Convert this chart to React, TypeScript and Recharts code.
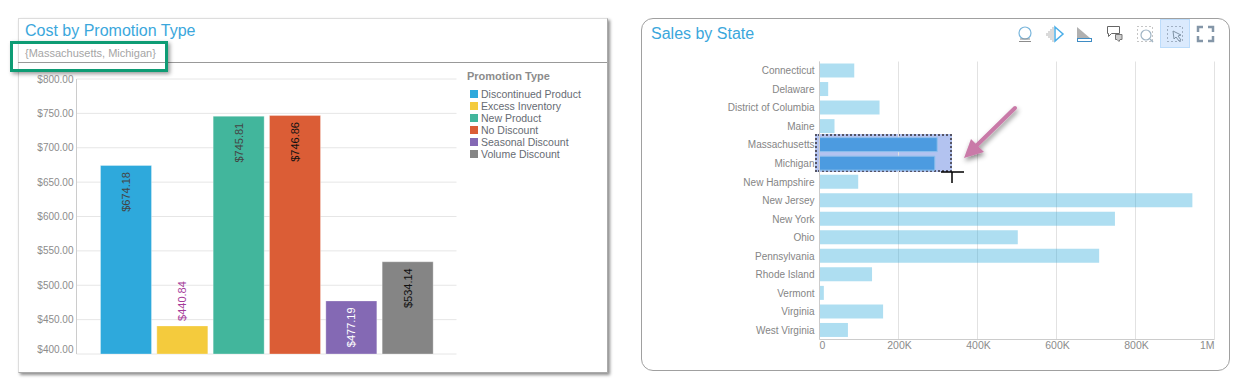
import { Bar, BarChart, CartesianGrid, Cell, LabelList, XAxis, YAxis } from "recharts";

const FONT = "'Liberation Sans', Arial, sans-serif";

const promotionTypes = [
  "Discontinued Product",
  "Excess Inventory",
  "New Product",
  "No Discount",
  "Seasonal Discount",
  "Volume Discount",
];
const promotionCosts = [674.18, 440.84, 745.81, 746.86, 477.19, 534.14];
const promotionColors = ["#2ea9dc", "#f4cb3d", "#42b69c", "#db5d36", "#8469b4", "#858585"];
const promotionLabelColors = ["#444444", "#a63c9a", "#444444", "#111111", "#ffffff", "#111111"];
const costTicks = [400, 450, 500, 550, 600, 650, 700, 750, 800];

const states = [
  "Connecticut",
  "Delaware",
  "District of Columbia",
  "Maine",
  "Massachusetts",
  "Michigan",
  "New Hampshire",
  "New Jersey",
  "New York",
  "Ohio",
  "Pennsylvania",
  "Rhode Island",
  "Vermont",
  "Virginia",
  "West Virginia",
];
const stateSales = [88000, 22000, 152000, 38000, 298000, 292000, 98000, 944000, 748000, 502000, 708000, 133000, 11000, 161000, 72000];
const selectedStates = ["Massachusetts", "Michigan"];
const salesTicks = [0, 200000, 400000, 600000, 800000, 1000000];
const salesTickLabels = ["0", "200K", "400K", "600K", "800K", "1M"];

const promotionData = promotionTypes.map((name, i) => ({ name, cost: promotionCosts[i] }));
const stateData = states.map((name, i) => ({ name, sales: stateSales[i] }));

const CostTick = ({ x, y, payload }: any) => (
  <text
    x={x}
    y={payload.value === 400 ? y - 5 : y}
    textAnchor="end"
    dominantBaseline="central"
    fontSize={10}
    fontFamily={FONT}
    fill="#8c8c8c"
  >
    ${payload.value.toFixed(2)}
  </text>
);

const SalesTick = ({ x, y, payload, index }: any) => (
  <text
    x={index === 0 ? x + 3 : index === 5 ? x : x + 1}
    y={y}
    textAnchor={index === 0 ? "middle" : index === 5 ? "end" : "middle"}
    dominantBaseline="central"
    fontSize={10.5}
    fontFamily={FONT}
    fill="#8c8c8c"
  >
    {salesTickLabels[salesTicks.indexOf(payload.value)]}
  </text>
);

const CostLabel = ({ x, y, width, value, index }: any) => {
  const cx = x + width / 2;
  const above = index === 1;
  const anchorY = above ? y - 5 : y + 6.5;
  return (
    <text
      x={cx}
      y={anchorY}
      transform={`rotate(-90 ${cx} ${anchorY})`}
      textAnchor={above ? "start" : "end"}
      dominantBaseline="central"
      fontSize={11}
      fontFamily={FONT}
      fill={promotionLabelColors[index]}
    >
      ${value.toFixed(2)}
    </text>
  );
};

const PromotionLegend = () => (
  <div style={{ position: "absolute", left: 467, top: 69, width: 130, fontFamily: FONT }}>
    <div style={{ fontSize: 11, fontWeight: 700, color: "#8c8c8c", height: 19, lineHeight: "14px" }}>Promotion Type</div>
    {promotionTypes.map((name, i) => (
      <div key={name} style={{ display: "flex", alignItems: "center", height: 12, paddingLeft: 3, fontSize: 10.5, color: "#666b73" }}>
        <span style={{ width: 8, height: 8, marginRight: 3, background: promotionColors[i] }} />
        {name}
      </div>
    ))}
  </div>
);

const Toolbar = () => (
  <svg width={1241} height={60} style={{ position: "absolute", left: 0, top: 0 }}>
    <circle cx={1025} cy={33} r={6} fill="none" stroke="#7ab6dc" strokeWidth={1.2} />
    <path d="M1020 39h10M1019 41.5h12" stroke="#8c8c8c" strokeWidth={1.2} />
    <path d="M1055 27l8 7-8 7z" fill="none" stroke="#4aaee8" strokeWidth={1.5} />
    <path d="M1053 27v15M1051 29v11M1049 31v7M1047 33v3" stroke="#b5b5b5" strokeWidth={1} />
    <path d="M1077 27v11h13z" fill="#b0b0b0" />
    <rect x={1077.5} y={38.5} width={14} height={3} fill="none" stroke="#3f8cc4" />
    <path d="M1107.5 26.5h12v7h-8l-3 3v-3h-1z" fill="none" stroke="#666666" />
    <path d="M1115.5 34.5h6.5v5h-2l-1 2-2-2h-1.500z" fill="#cccccc" stroke="#777777" />
    <rect x={1137.5} y={26.5} width={15} height={15} fill="none" stroke="#8c8c8c" strokeDasharray="1 3" />
    <circle cx={1146} cy={35} r={5} fill="none" stroke="#9fb4c4" strokeWidth={1.2} />
    <path d="M1150 39l3 3" stroke="#9fb4c4" strokeWidth={1.5} />
    <rect x={1160.5} y={19.5} width={29} height={28} fill="#dbeafd" stroke="#bcdcfb" />
    <rect x={1167.5} y={26.5} width={15} height={15} fill="none" stroke="#667788" strokeDasharray="1 3" />
    <path d="M1173 31l8 4-3 1 3 4-2 1-3-4-2 2z" fill="#dbeafd" stroke="#7f93a5" />
    <path
      d="M1198 32v-5h5M1208 27h5v5M1213 36v5h-5M1203 41h-5v-5"
      fill="none"
      stroke="#8496a8"
      strokeWidth={2.5}
    />
  </svg>
);

const Annotations = () => (
  <svg width={1241} height={392} style={{ position: "absolute", left: 0, top: 0, pointerEvents: "none" }}>
    <defs>
      <filter id="arrowShadow" x="-30%" y="-30%" width="170%" height="170%">
        <feDropShadow dx={1} dy={3} stdDeviation={2.5} floodColor="#000000" floodOpacity={0.45} />
      </filter>
    </defs>
    <g filter="url(#arrowShadow)">
      <path d="M1015 108L972 150" stroke="#c97aa8" strokeWidth={4} strokeLinecap="round" />
      <path d="M964 158L971 139L984 152z" fill="#c97aa8" />
    </g>
    <path d="M941 172H964M952 172V183" stroke="#000000" strokeWidth={1.5} />
  </svg>
);

const App = () => (
  <div style={{ position: "absolute", left: 0, top: 0, width: 1241, height: 392, background: "#ffffff", overflow: "hidden" }}>
    {/* left panel */}
    <div
      style={{
        position: "absolute",
        left: 18,
        top: 18,
        width: 588,
        height: 353,
        border: "1px solid #dddddd",
        borderRight: "1px solid #aaaaaa",
        borderBottom: "1px solid #aaaaaa",
        boxShadow: "2px 2px 3px rgba(0,0,0,0.45)",
      }}
    />
    <div style={{ position: "absolute", left: 25, top: 22, fontFamily: FONT, fontSize: 16, color: "#3ba7dc", lineHeight: "18px" }}>
      Cost by Promotion Type
    </div>
    <div style={{ position: "absolute", left: 25, top: 46, fontFamily: FONT, fontSize: 11, color: "#a5a5a5", lineHeight: "14px" }}>
      {"{Massachusetts, Michigan}"}
    </div>
    <div style={{ position: "absolute", left: 18, top: 62, width: 589, height: 1, background: "#999999" }} />
    <div
      style={{
        position: "absolute",
        left: 10,
        top: 41,
        width: 152,
        height: 25,
        border: "3px solid #0e9c74",
        boxShadow: "2px 2px 4px rgba(0,0,0,0.4)",
      }}
    />
    <div style={{ position: "absolute", left: 0, top: 0 }}>
      <BarChart width={607} height={372} data={promotionData} margin={{ top: 79, right: 150.5, bottom: 18, left: 16.5 }}>
        <CartesianGrid vertical={false} stroke="#e6e6e6" />
        <XAxis dataKey="name" tick={false} tickLine={false} height={0} stroke="#cccccc" padding={{ left: 21, right: 21 }} />
        <YAxis
          width={60}
          domain={[400, 800]}
          ticks={costTicks}
          interval={0}
          tickLine={false}
          tickSize={0}
          tickMargin={3}
          stroke="#cccccc"
          tick={<CostTick />}
        />
        <Bar dataKey="cost" barSize={51} isAnimationActive={false} stroke="#ffffff" strokeOpacity={0.3}>
          {promotionData.map((d, i) => (
            <Cell key={d.name} fill={promotionColors[i]} />
          ))}
          <LabelList dataKey="cost" content={<CostLabel />} />
        </Bar>
      </BarChart>
    </div>
    <PromotionLegend />

    {/* right panel */}
    <div
      style={{
        position: "absolute",
        left: 641,
        top: 18,
        width: 587,
        height: 351,
        border: "1.5px solid #a0a0a0",
        borderRadius: 12,
      }}
    />
    <div style={{ position: "absolute", left: 651, top: 25, fontFamily: FONT, fontSize: 16, color: "#3ba7dc", lineHeight: "18px" }}>
      Sales by State
    </div>
    <Toolbar />
    {/* selection lasso sits behind the bars */}
    <div
      style={{
        position: "absolute",
        left: 815,
        top: 134,
        width: 133,
        height: 34,
        background: "#b3c3f0",
        border: "2px dotted #555566",
      }}
    />
    <div style={{ position: "absolute", left: 641, top: 0 }}>
      <BarChart
        width={590}
        height={372}
        layout="vertical"
        data={stateData}
        barCategoryGap={0}
        margin={{ top: 61.5, right: 16.5, bottom: 17.5, left: 28.5 }}
      >
        <CartesianGrid horizontal={false} stroke="#e2e2e2" />
        <XAxis
          type="number"
          domain={[0, 1000000]}
          ticks={salesTicks}
          interval={0}
          height={15}
          tickLine={false}
          tickSize={0}
          tickMargin={5}
          stroke="#cccccc"
          tick={<SalesTick />}
        />
        <YAxis
          type="category"
          dataKey="name"
          width={150}
          interval={0}
          tickLine={false}
          tickSize={0}
          tickMargin={5}
          stroke="#cccccc"
          tick={{ fontSize: 10, fontFamily: FONT, fill: "#858585" }}
        />
        <Bar dataKey="sales" barSize={14} isAnimationActive={false}>
          {stateData.map((d) =>
            selectedStates.includes(d.name) ? (
              <Cell key={d.name} fill="#4c9be0" stroke="#8fc0ec" />
            ) : (
              <Cell key={d.name} fill="#2ea9dc" fillOpacity={0.39} />
            )
          )}
        </Bar>
      </BarChart>
    </div>
    <Annotations />
  </div>
);

export default App;
